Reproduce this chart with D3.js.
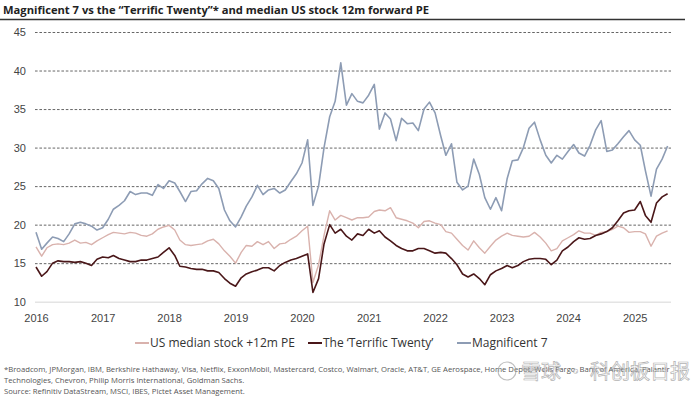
<!DOCTYPE html>
<html>
<head>
<meta charset="utf-8">
<script src="https://cdn.jsdelivr.net/npm/d3@7"></script>
<style>
  body { margin: 0; background: #fff; }
  svg { display: block; font-family: "Open Sans", "Noto Sans", sans-serif; }
</style>
</head>
<body>
<div id="chart"></div>
<script>
// monthly values, Jan 2016 .. Jul 2025
const startMonth = "2016-01-01";

const usMedian = [
  17.1, 15.9, 17.0, 17.4, 17.5, 17.4, 17.6, 18.0, 17.6, 17.7, 17.4, 17.9,
  18.3, 18.7, 19.0, 18.9, 18.8, 19.0, 18.9, 18.6, 18.5, 18.8, 19.4, 19.7,
  19.9, 19.3, 18.0, 17.4, 17.3, 17.4, 17.5, 17.9, 18.1, 17.5, 16.6, 15.9,
  15.0, 16.4, 17.3, 17.2, 17.8, 17.4, 17.8, 16.9, 17.5, 17.6, 18.1, 18.5,
  19.2, 19.8, 12.5, 14.8, 18.6, 21.8, 20.6, 21.2, 20.9, 20.6, 20.9, 20.9,
  21.0, 21.7, 21.9, 21.8, 22.2, 20.9, 20.7, 20.5, 20.2, 19.6, 20.4, 20.5,
  20.2, 20.0, 19.1, 18.9, 18.1, 17.3, 16.7, 17.9, 17.0, 16.3, 17.2, 18.0,
  18.5, 18.9, 18.6, 18.5, 18.4, 18.5, 19.0, 18.4, 17.6, 16.6, 16.9, 17.9,
  18.3, 18.7, 19.2, 18.9, 18.9, 18.6, 19.0, 19.1, 19.4, 19.8, 19.6, 19.0,
  19.1, 19.1, 18.8, 17.2, 18.5, 18.9, 19.2
];

const terrificTwenty = [
  14.5, 13.3, 13.9, 15.0, 15.3, 15.2, 15.2, 15.1, 15.2, 15.0, 14.7, 15.5,
  15.8, 15.7, 16.0, 15.6, 15.4, 15.2, 15.2, 15.4, 15.4, 15.6, 15.8, 16.4,
  17.0, 16.0, 14.6, 14.5, 14.3, 14.2, 14.2, 14.0, 14.0, 13.8, 13.0, 12.4,
  12.0, 13.1, 13.6, 13.9, 14.1, 14.4, 14.4, 14.0, 14.7, 15.1, 15.4, 15.6,
  15.9, 16.2, 11.2, 13.0, 17.5, 20.0, 18.9, 19.4, 18.5, 18.0, 18.8, 18.6,
  19.4, 18.9, 19.2, 18.4, 17.9, 17.3, 16.9, 16.6, 16.6, 16.9, 16.9, 16.6,
  16.3, 16.4, 16.3, 15.6, 14.8, 13.6, 13.2, 13.6, 13.0, 12.2, 13.5, 14.0,
  14.3, 14.7, 14.4, 14.7, 15.2, 15.5, 15.6, 15.6, 15.5, 14.8, 15.4, 16.6,
  17.1, 17.8, 18.3, 18.1, 18.2, 18.6, 18.8, 19.1, 19.6, 20.5, 21.5, 21.8,
  21.9, 23.0, 21.2, 20.3, 22.8, 23.6, 24.0
];

const magnificent7 = [
  19.0, 16.8, 17.6, 18.4, 18.2, 17.8, 18.8, 20.1, 20.3, 20.1, 19.8, 19.3,
  19.6, 20.7, 22.0, 22.5, 23.1, 24.3, 23.9, 24.1, 24.1, 23.8, 25.2, 24.7,
  25.7, 25.4, 24.3, 23.0, 24.3, 24.4, 25.3, 26.0, 25.7, 24.7, 21.9, 20.5,
  19.7, 21.0, 22.4, 23.6, 25.1, 23.9, 24.5, 24.7, 24.1, 24.5, 25.6, 26.6,
  28.0, 31.0, 22.5, 25.0, 30.0, 34.0, 36.0, 41.0, 35.5, 37.0, 36.0, 35.8,
  36.8, 38.2, 32.4, 34.5, 33.7, 30.9, 33.8, 33.1, 33.2, 32.2, 35.0, 35.9,
  34.5, 31.5, 29.0, 30.5, 25.5, 24.5, 25.0, 28.5, 26.5, 23.5, 22.0, 23.5,
  21.8, 26.0, 28.3, 28.4, 30.0, 32.5, 33.3, 31.0, 29.0, 28.0, 29.0, 28.5,
  29.5, 30.4, 29.3, 28.9, 30.3, 32.3, 33.5, 29.5, 29.7, 30.5, 31.4, 32.2,
  31.0, 30.3, 27.0, 23.7, 27.2, 28.5, 30.2
];

const yTicks = [10, 15, 20, 25, 30, 35, 40, 45];
const yearTicks = [2016, 2017, 2018, 2019, 2020, 2021, 2022, 2023, 2024, 2025];

const seriesNames = ["US median stock +12m PE", "The \u2018Terrific Twenty\u2019", "Magnificent 7"];
const seriesColors = ["#d9b2ad", "#4a1719", "#8d9cb4"];

const title = "Magnificent 7 vs the \u201cTerrific Twenty\u201d* and median US stock 12m forward PE";
const notes = [
  "*Broadcom, JPMorgan, IBM, Berkshire Hathaway, Visa, Netflix, ExxonMobil, Mastercard, Costco, Walmart, Oracle, AT&T, GE Aerospace, Home Depot, Wells Fargo, Bank of America, Palantir",
  "Technologies, Chevron, Philip Morris International, Goldman Sachs.",
  "Source: Refinitiv DataStream, MSCI, IBES, Pictet Asset Management."
];

const width = 700, height = 396;
const svg = d3.select("#chart").append("svg")
    .attr("width", width)
    .attr("height", height);

const months = d3.timeMonth.range(new Date(startMonth), d3.timeMonth.offset(new Date(startMonth), usMedian.length));
const series = [usMedian, terrificTwenty, magnificent7].map((vals, i) => ({
  name: seriesNames[i],
  color: seriesColors[i],
  values: vals.map((v, j) => ({date: months[j], value: v}))
}));

// Title
svg.append("text")
    .attr("x", 3)
    .attr("y", 14)
    .attr("font-size", 11.2)
    .attr("font-weight", "bold")
    .attr("fill", "#222")
    .text(title);
svg.append("line")
    .attr("x1", 0).attr("x2", 685)
    .attr("y1", 19.5).attr("y2", 19.5)
    .attr("stroke", "#333")
    .attr("stroke-width", 1.3);

// Scales
const x = d3.scaleTime()
    .domain([months[0], months[months.length - 1]])
    .range([36, 667.6]);
const y = d3.scaleLinear()
    .domain([10, 45])
    .range([301.7, 32]);

// Y axis + gridlines
const yAxis = svg.append("g")
    .attr("transform", "translate(35,0)")
    .call(d3.axisLeft(y).tickValues(yTicks).tickSize(-636).tickPadding(9));
yAxis.select(".domain").remove();
yAxis.selectAll(".tick line")
    .attr("stroke", d => d === 10 ? "#e4e4e4" : "#555")
    .attr("stroke-width", d => d === 10 ? 1.5 : 0.9)
    .attr("stroke-dasharray", d => d === 10 ? null : "2.6,1.8");
yAxis.selectAll(".tick text")
    .attr("font-size", 11)
    .attr("fill", "#444")
    .attr("font-family", "inherit");

// X axis
const xAxis = svg.append("g")
    .attr("transform", `translate(0,${y(10)})`)
    .call(d3.axisBottom(x)
        .tickValues(yearTicks.map(yr => new Date(yr, 0, 1)))
        .tickFormat(d3.timeFormat("%Y"))
        .tickSize(0)
        .tickPadding(13));
xAxis.select(".domain").remove();
xAxis.selectAll(".tick text")
    .attr("font-size", 11)
    .attr("fill", "#444")
    .attr("font-family", "inherit");

// Lines
const line = d3.line()
    .x(d => x(d.date))
    .y(d => y(d.value));

svg.append("g")
    .selectAll("path")
    .data(series)
    .enter()
    .append("path")
        .attr("d", d => line(d.values))
        .attr("fill", "none")
        .attr("stroke", d => d.color)
        .attr("stroke-width", (d, i) => i === 0 ? 1.4 : 1.6)
        .attr("stroke-linejoin", "round");

// Legend
const legendX = [135, 308, 457];
const legend = svg.append("g")
    .selectAll("g")
    .data(series)
    .enter()
    .append("g")
        .attr("transform", (d, i) => `translate(${legendX[i]},343)`);
legend.append("line")
    .attr("x1", 0).attr("x2", 14)
    .attr("stroke", d => d.color)
    .attr("stroke-width", 2);
legend.append("text")
    .attr("x", 15)
    .attr("dy", "0.35em")
    .attr("font-size", 12)
    .attr("fill", "#333")
    .text(d => d.name);

// Footnotes
svg.append("g")
    .selectAll("text")
    .data(notes)
    .enter()
    .append("text")
        .attr("x", 4)
        .attr("y", (d, i) => 372 + i * 10.8)
        .attr("font-size", 7.7)
        .attr("fill", "#555")
        .text(d => d);

// Watermark
const wm = svg.append("g").attr("opacity", 0.75);
wm.append("circle")
    .attr("cx", 507).attr("cy", 371).attr("r", 9)
    .attr("fill", "none").attr("stroke", "#aaa").attr("stroke-width", 1.2);
wm.append("text")
    .attr("x", 521)
    .attr("y", 379)
    .attr("font-family", "Noto Sans CJK SC")
    .attr("font-size", 20)
    .attr("fill", "rgba(255,255,255,0.7)")
    .attr("stroke", "#9a9a9a")
    .attr("stroke-width", 0.7)
    .text("雪球 · 科创板日报");
</script>
</body>
</html>
